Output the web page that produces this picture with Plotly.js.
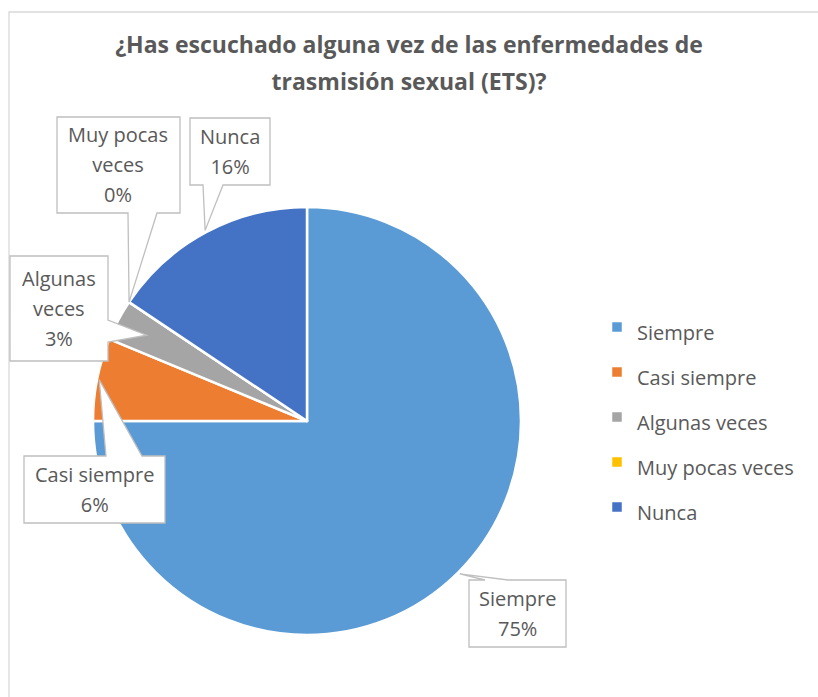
<!DOCTYPE html>
<html>
<head>
<meta charset="utf-8">
<script src="https://cdn.plot.ly/plotly-3.0.1.min.js"></script>
<style>html,body{margin:0;padding:0;background:#fff;}#chart{width:818px;height:697px;}</style>
</head>
<body>
<div id="chart"></div>
<script>
// ---- data ----
const categories = ['Siempre', 'Casi siempre', 'Algunas veces', 'Muy pocas veces', 'Nunca'];
const counts = [24, 2, 1, 0, 5];
const sliceColors = ['#5B9BD5', '#ED7D31', '#A5A5A5', '#FFC000', '#4472C4'];
const titleLines = ['¿Has escuchado alguna vez de las enfermedades de', 'trasmisión sexual (ETS)?'];

// ---- layout helpers ----
const W = 818, H = 697;
const PIE = {cx: 307, cy: 421, r: 214};
const CALLOUTS = [
  {box: [469, 580, 566, 647], side: 'top', base: [485, 508], tipR: 1.01, wrap: 12},
  {box: [24, 456, 165, 523], side: 'top', base: [106, 142], tipR: 0.99, wrap: 14},
  {box: [10, 256, 108, 361], side: 'right', base: [320, 342], tipR: 0.85, wrap: 8},
  {box: [57, 117, 180, 213], side: 'bottom', base: [128, 157], tipR: 1.0, wrap: 10},
  {box: [190, 118, 270, 185], side: 'bottom', base: [203, 223], tipR: 1.01, wrap: 10}
];
const px = x => x / W, py = y => 1 - y / H;
const TXT = '#595959';
const FONT = 'Open Sans, Noto Sans, sans-serif';

const total = counts.reduce((a, b) => a + b, 0);
const pct = counts.map(v => Math.round(v / total * 100));
let acc = 0;
const midAngles = counts.map(v => { const a = (acc + v / 2) / total * 2 * Math.PI; acc += v; return a; });

function wrapWords(s, n) {
  const words = s.split(' '); const lines = []; let cur = '';
  words.forEach(w => {
    if (cur && (cur + ' ' + w).length > n) { lines.push(cur); cur = w; }
    else cur = cur ? cur + ' ' + w : w;
  });
  if (cur) lines.push(cur);
  return lines;
}
function sp(t, size) { return '<span style="font-size:' + size + 'px">' + t + '</span>'; }

function calloutPath(c, tip) {
  const [L, T, R, B] = c.box; const [b1, b2] = c.base;
  const pts = [[L, T]];
  if (c.side === 'top') pts.push([b1, T], tip, [b2, T]);
  pts.push([R, T]);
  if (c.side === 'right') pts.push([R, b1], tip, [R, b2]);
  pts.push([R, B]);
  if (c.side === 'bottom') pts.push([b2, B], tip, [b1, B]);
  pts.push([L, B]);
  if (c.side === 'left') pts.push([L, b2], tip, [L, b1]);
  return 'M' + pts.map(p => px(p[0]).toFixed(5) + ',' + py(p[1]).toFixed(5)).join('L') + 'Z';
}

const shapes = [{
  type: 'rect', xref: 'paper', yref: 'paper',
  x0: px(9), x1: 1.05, y0: -0.05, y1: py(12),
  line: {color: '#D9D9D9', width: 1.3}, fillcolor: 'rgba(0,0,0,0)', layer: 'below'
}];
const annotations = [];
categories.forEach((cat, i) => {
  const c = CALLOUTS[i];
  const a = midAngles[i];
  const rr = PIE.r * c.tipR;
  const tip = [PIE.cx + rr * Math.sin(a), PIE.cy - rr * Math.cos(a)];
  shapes.push({
    type: 'path', xref: 'paper', yref: 'paper', path: calloutPath(c, tip),
    fillcolor: '#FFFFFF', line: {color: '#BFBFBF', width: 1.3}, layer: 'above'
  });
  const lines = wrapWords(cat, c.wrap).concat([pct[i] + '%']);
  annotations.push({
    xref: 'paper', yref: 'paper',
    x: px((c.box[0] + c.box[2]) / 2), y: py((c.box[1] + c.box[3]) / 2),
    xanchor: 'center', yanchor: 'middle', showarrow: false,
    text: lines.map(l => sp(l, 20)).join('<br>'),
    font: {family: FONT, size: 23, color: TXT}, align: 'center'
  });
});

const trace = {
  type: 'pie',
  labels: categories.map(c => sp(c, 20)),
  values: counts,
  sort: false, direction: 'clockwise', rotation: 0,
  textinfo: 'none', hoverinfo: 'label+percent',
  marker: {colors: sliceColors, line: {color: '#FFFFFF', width: 2.5}},
  domain: {x: [px(PIE.cx - PIE.r), px(PIE.cx + PIE.r)], y: [py(PIE.cy + PIE.r), py(PIE.cy - PIE.r)]},
  showlegend: true
};

const layout = {
  width: W, height: H,
  margin: {l: 0, r: 0, t: 0, b: 0},
  paper_bgcolor: '#FFFFFF',
  font: {family: FONT, color: TXT},
  title: {
    text: titleLines.map(l => sp(l, 23)).join('<br>'),
    font: {family: FONT, size: 28.5, color: TXT, weight: 700},
    x: 0.5, xanchor: 'center', xref: 'container',
    y: py(53), yanchor: 'top', yref: 'container'
  },
  legend: {
    x: px(597), xanchor: 'left', y: py(417), yanchor: 'middle',
    font: {family: FONT, size: 32.3, color: TXT}, itemwidth: 30,
    bgcolor: 'rgba(0,0,0,0)'
  },
  shapes: shapes,
  annotations: annotations
};

Plotly.newPlot('chart', [trace], layout, {displayModeBar: false, staticPlot: true});
</script>
</body>
</html>
